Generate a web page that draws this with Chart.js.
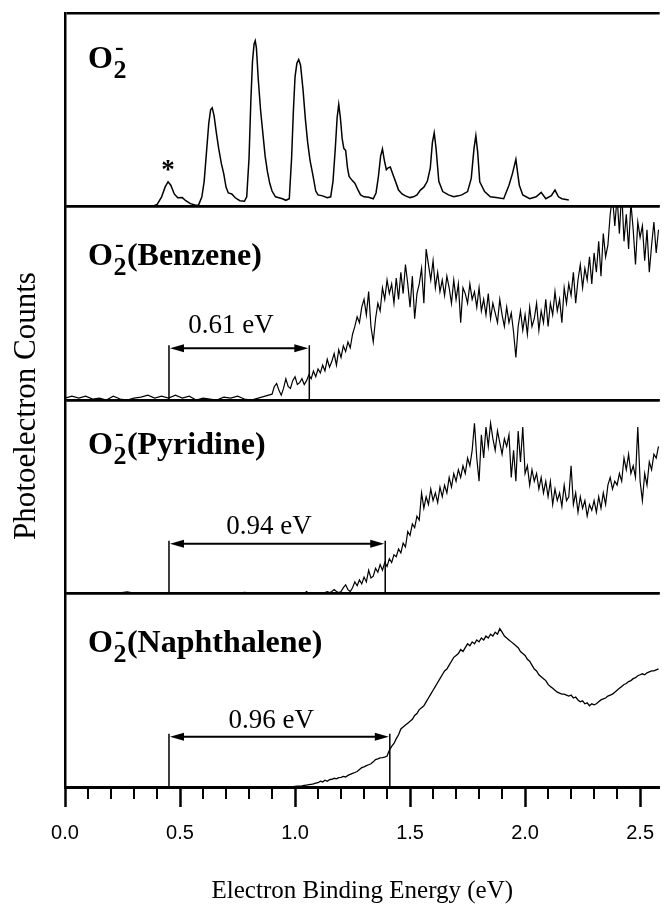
<!DOCTYPE html>
<html><head><meta charset="utf-8">
<script src="https://cdn.jsdelivr.net/npm/chart.js@4.4.0/dist/chart.umd.min.js"></script>
<style>html,body{margin:0;padding:0;background:#fff;overflow:hidden}</style>
</head><body>
<canvas id="c" width="668" height="904"></canvas>
<script>
// ---------------- DATA ----------------
const panelNames = ['', '(Benzene)', '(Pyridine)', '(Naphthalene)'];

// O2- spectrum (relative counts, panel height = 1)
const o2Energy = [0.38,0.40,0.42,0.435,0.448,0.46,0.475,0.49,0.51,0.525,0.545,0.565,0.58,0.595,0.605,0.615,0.625,0.633,0.640,0.648,0.658,0.668,0.68,0.69,0.70,0.71,0.725,0.74,0.76,0.78,
0.79,0.80,0.808,0.815,0.822,0.827,0.832,0.84,0.85,0.86,0.87,0.88,0.89,0.90,0.915,0.93,0.945,0.96,0.975,0.985,0.993,1.000,1.008,1.016,1.024,1.035,1.045,1.055,1.065,1.078,
1.09,1.10,1.12,1.14,1.155,1.165,1.175,1.183,1.190,1.197,1.205,1.212,1.22,1.228,1.235,1.248,1.26,1.272,1.285,1.30,1.32,1.34,1.352,1.362,1.372,1.38,1.388,1.397,1.405,1.414,
1.424,1.435,1.45,1.465,1.48,1.50,1.515,1.53,1.545,1.56,1.575,1.588,1.597,1.605,1.613,1.625,1.642,1.667,1.69,1.71,1.725,1.75,1.766,1.778,1.786,1.794,1.803,1.824,1.849,1.874,
1.907,1.93,1.945,1.96,1.968,1.975,1.99,2.02,2.048,2.07,2.09,2.114,2.13,2.145,2.16,2.19];
const o2Counts = [0.0,0.01,0.05,0.10,0.128,0.11,0.065,0.045,0.046,0.03,0.015,0.008,0.006,0.05,0.13,0.28,0.43,0.50,0.51,0.47,0.38,0.30,0.22,0.17,0.10,0.07,0.065,0.045,0.03,0.027,
0.05,0.25,0.55,0.75,0.84,0.857,0.82,0.66,0.50,0.38,0.26,0.18,0.12,0.08,0.05,0.045,0.04,0.032,0.04,0.25,0.50,0.67,0.74,0.76,0.73,0.60,0.45,0.33,0.24,0.16,
0.08,0.06,0.055,0.045,0.05,0.13,0.30,0.46,0.528,0.46,0.35,0.30,0.29,0.20,0.155,0.135,0.12,0.09,0.06,0.05,0.048,0.04,0.07,0.15,0.26,0.298,0.24,0.19,0.20,0.204,
0.17,0.135,0.085,0.065,0.055,0.046,0.05,0.06,0.085,0.10,0.13,0.20,0.33,0.38,0.30,0.13,0.077,0.06,0.05,0.055,0.06,0.077,0.145,0.30,0.366,0.28,0.128,0.077,0.05,0.046,
0.04,0.11,0.17,0.244,0.17,0.11,0.06,0.04,0.05,0.073,0.04,0.056,0.085,0.05,0.04,0.034];

// shared energy grid for the three cluster spectra (eV)
const energy = [0.00,0.03,0.06,0.09,0.12,0.15,0.18,0.21,0.24,0.27,0.30,0.33,0.36,0.39,0.42,0.45,0.48,0.51,0.54,0.57,0.60,0.63,0.66,0.69,0.72,0.75,0.78,0.81,0.84,0.87,
0.90,0.91,0.92,0.93,0.94,0.95,0.96,0.97,0.98,0.99,
1.00,1.01,1.02,1.03,1.04,1.05,1.06,1.07,1.08,1.09,
1.10,1.11,1.12,1.13,1.14,1.15,1.16,1.17,1.18,1.19,
1.20,1.21,1.22,1.23,1.24,1.25,1.26,1.27,1.28,1.29,
1.30,1.31,1.32,1.33,1.34,1.35,1.36,1.37,1.38,1.39,
1.40,1.41,1.42,1.43,1.44,1.45,1.46,1.47,1.48,1.49,
1.50,1.51,1.52,1.53,1.54,1.55,1.56,1.57,1.58,1.59,
1.60,1.61,1.62,1.63,1.64,1.65,1.66,1.67,1.68,1.69,
1.70,1.71,1.72,1.73,1.74,1.75,1.76,1.77,1.78,1.79,
1.80,1.81,1.82,1.83,1.84,1.85,1.86,1.87,1.88,1.89,
1.90,1.91,1.92,1.93,1.94,1.95,1.96,1.97,1.98,1.99,
2.00,2.01,2.02,2.03,2.04,2.05,2.06,2.07,2.08,2.09,
2.10,2.11,2.12,2.13,2.14,2.15,2.16,2.17,2.18,2.19,
2.20,2.21,2.22,2.23,2.24,2.25,2.26,2.27,2.28,2.29,
2.30,2.31,2.32,2.33,2.34,2.35,2.36,2.37,2.38,2.39,
2.40,2.41,2.42,2.43,2.44,2.45,2.46,2.47,2.48,2.49,
2.50,2.51,2.52,2.53,2.54,2.55,2.56,2.57,2.58];

const benzeneCounts = [0.01,0.02,0.01,0.02,0.005,0.01,0.0,0.02,0.005,0.0,0.01,0.015,0.025,0.01,0.02,0.01,0.025,0.01,0.02,0.0,0.01,0.005,0.0,0.015,0.01,0.02,0.005,0.0,0.01,0.02,
0.03,0.07,0.085,0.05,0.025,0.06,0.11,0.07,0.06,0.10,
0.12,0.08,0.09,0.11,0.08,0.10,0.13,0.11,0.15,0.12,
0.16,0.14,0.18,0.15,0.21,0.17,0.20,0.24,0.18,0.26,
0.22,0.28,0.25,0.30,0.27,0.34,0.38,0.43,0.40,0.48,
0.52,0.44,0.56,0.38,0.30,0.42,0.50,0.46,0.58,0.52,
0.62,0.55,0.60,0.50,0.63,0.52,0.66,0.55,0.70,0.60,
0.48,0.64,0.42,0.55,0.60,0.68,0.50,0.78,0.70,0.62,
0.72,0.58,0.66,0.56,0.62,0.54,0.64,0.58,0.50,0.62,
0.52,0.60,0.40,0.58,0.55,0.50,0.60,0.52,0.56,0.48,
0.58,0.46,0.52,0.44,0.55,0.42,0.50,0.45,0.40,0.52,
0.44,0.38,0.48,0.40,0.45,0.35,0.22,0.38,0.46,0.36,
0.44,0.34,0.48,0.38,0.42,0.50,0.36,0.46,0.40,0.52,
0.38,0.50,0.44,0.56,0.46,0.52,0.40,0.58,0.50,0.60,
0.54,0.66,0.50,0.62,0.70,0.58,0.68,0.62,0.74,0.60,
0.76,0.66,0.82,0.64,0.86,0.74,0.80,0.96,1.05,0.90,
1.05,0.86,1.08,0.82,0.96,0.78,1.02,0.88,0.70,0.92,
0.84,0.90,0.72,0.88,0.66,0.80,0.92,0.76,0.88];

const pyridineCounts = [0,0,0,0,0,0,0,0,0.003,0.008,0.002,0,0,0,0,0,0,0,0,0,0,0,0,0,0.004,0,0.006,0.002,0,0,
0,0,0.005,0,0,0,0,0.005,0,0,
0,0.005,0,0,0,0.01,0,0,0,0,
0,0.005,0,0.005,0.01,0.005,0.01,0.02,0.01,0.005,
0.01,0.03,0.045,0.02,0.01,0.03,0.06,0.04,0.07,0.05,
0.085,0.06,0.12,0.08,0.09,0.13,0.11,0.15,0.12,0.16,
0.14,0.18,0.16,0.20,0.19,0.23,0.21,0.26,0.24,0.32,
0.30,0.36,0.34,0.40,0.38,0.52,0.44,0.50,0.46,0.54,
0.48,0.52,0.47,0.55,0.50,0.56,0.52,0.60,0.55,0.62,
0.58,0.64,0.60,0.66,0.62,0.70,0.66,0.74,0.88,0.70,
0.58,0.82,0.70,0.86,0.76,0.88,0.80,0.74,0.84,0.78,
0.72,0.80,0.76,0.82,0.60,0.74,0.58,0.84,0.68,0.86,
0.62,0.66,0.56,0.64,0.58,0.62,0.54,0.60,0.52,0.58,
0.50,0.58,0.46,0.54,0.48,0.52,0.45,0.56,0.48,0.50,
0.66,0.46,0.52,0.42,0.50,0.44,0.48,0.40,0.46,0.43,
0.48,0.42,0.50,0.44,0.52,0.46,0.56,0.60,0.54,0.58,
0.56,0.62,0.58,0.70,0.64,0.72,0.62,0.66,0.60,0.86,
0.58,0.48,0.62,0.56,0.68,0.64,0.72,0.70,0.76];

const naphthaleneCounts = [0,0,0,0,0,0,0,0,0,0,0.002,0,0,0.002,0,0,0,0.002,0,0,0,0,0.002,0,0,0,0,0.002,0,0,
0,0,0,0,0,0,0,0,0,0.002,
0.003,0.004,0.005,0.006,0.008,0.01,0.012,0.014,0.016,0.02,
0.022,0.03,0.026,0.035,0.03,0.038,0.04,0.045,0.042,0.048,
0.05,0.055,0.052,0.06,0.065,0.07,0.075,0.08,0.09,0.10,
0.104,0.11,0.115,0.12,0.13,0.142,0.145,0.15,0.152,0.155,
0.16,0.19,0.21,0.225,0.25,0.27,0.30,0.31,0.32,0.33,
0.34,0.35,0.37,0.38,0.40,0.41,0.42,0.44,0.46,0.48,
0.50,0.52,0.54,0.56,0.58,0.60,0.61,0.63,0.65,0.67,
0.68,0.69,0.71,0.70,0.72,0.74,0.73,0.75,0.74,0.76,
0.75,0.77,0.76,0.78,0.77,0.79,0.78,0.80,0.79,0.818,
0.80,0.78,0.77,0.76,0.75,0.74,0.73,0.72,0.70,0.69,
0.68,0.66,0.65,0.63,0.61,0.60,0.58,0.57,0.56,0.55,
0.53,0.52,0.51,0.50,0.49,0.485,0.48,0.48,0.475,0.47,
0.475,0.46,0.465,0.45,0.44,0.445,0.43,0.435,0.42,0.43,
0.425,0.43,0.44,0.45,0.455,0.46,0.47,0.475,0.48,0.49,
0.50,0.51,0.52,0.53,0.535,0.545,0.55,0.56,0.565,0.575,
0.58,0.585,0.58,0.59,0.595,0.60,0.60,0.605,0.61];

const xTickValues = [0.0, 0.5, 1.0, 1.5, 2.0, 2.5];
const minorTickValues = [0.1,0.2,0.3,0.4,0.6,0.7,0.8,0.9,1.1,1.2,1.3,1.4,1.6,1.7,1.8,1.9,2.1,2.2,2.3,2.4];
const arrowStart = 0.452;               // eV, O2 electron affinity line
const gapValues = [0.61, 0.94, 0.96];   // eV shifts
const gapLabels = ['0.61 eV', '0.94 eV', '0.96 eV'];

// ---------------- CHART ----------------
const panelIds = ['y1', 'y2', 'y3', 'y4'];
const toXY = (xs, ys) => xs.map((x, i) => ({x: x, y: ys[i]}));
const SERIF = '"Liberation Serif", "Times New Roman", serif';
const SANS = '"Liberation Sans", Arial, sans-serif';

const annotStyle = {
  labelX: 0.1, labelFrac: [0.77, 0.75, 0.775, 0.75], labelSize: 32,
  starFrac: 0.217, starX: 0.448, starSize: 27,
  arrowFrac: [0.268, 0.257, 0.26], gapLabelFrac: [0.385, 0.342, 0.34], gapLabelShift: -0.035, gapSize: 27
};

const annotPlugin = {
  id: 'annot',
  afterDraw(chart) {
    const {ctx, scales, chartArea} = chart;
    const xs = scales.x;
    ctx.save();
    ctx.fillStyle = '#000';
    ctx.strokeStyle = '#000';
    // minor ticks
    ctx.lineWidth = 2;
    minorTickValues.forEach(v => {
      const px = Math.round(xs.getPixelForValue(v));
      ctx.beginPath(); ctx.moveTo(px, xs.top); ctx.lineTo(px, xs.top + 12); ctx.stroke();
    });
    // panel labels
    const S = annotStyle.labelSize;
    panelIds.forEach((id, i) => {
      const ys = scales[id];
      const x0 = xs.getPixelForValue(annotStyle.labelX);
      const cy = ys.getPixelForValue(annotStyle.labelFrac[i]);
      const base = cy + 0.33 * S;
      ctx.textAlign = 'left'; ctx.textBaseline = 'alphabetic';
      ctx.font = 'bold ' + S + 'px ' + SERIF;
      ctx.fillText('O', x0, base);
      let x = x0 + ctx.measureText('O').width + 0.5;
      const small = Math.round(S * 0.8);
      ctx.font = 'bold ' + small + 'px ' + SERIF;
      ctx.fillText('2', x, base + 0.3 * S);
      const w2 = ctx.measureText('2').width;
      ctx.fillText('-', x + 1.5, base - 0.42 * S);
      x += w2 + 0.5;
      ctx.font = 'bold ' + S + 'px ' + SERIF;
      if (panelNames[i]) ctx.fillText(panelNames[i], x, base);
    });
    // star
    const s1 = scales.y1;
    const st = annotStyle.starSize;
    ctx.font = 'bold ' + st + 'px ' + SERIF;
    ctx.textAlign = 'center';
    ctx.fillText('*', xs.getPixelForValue(annotStyle.starX), s1.getPixelForValue(annotStyle.starFrac) + 0.485 * st);
    // arrows
    gapValues.forEach((g, k) => {
      const ys = scales[panelIds[k + 1]];
      const xa = xs.getPixelForValue(arrowStart);
      const xb = xs.getPixelForValue(arrowStart + g);
      const ya = ys.getPixelForValue(annotStyle.arrowFrac[k]);
      const yb = ys.getPixelForValue(0);
      ctx.lineWidth = 1.5;
      ctx.beginPath();
      ctx.moveTo(xa, ya - 3); ctx.lineTo(xa, yb);
      ctx.moveTo(xb, ya - 3); ctx.lineTo(xb, yb);
      ctx.stroke();
      ctx.lineWidth = 2;
      ctx.beginPath(); ctx.moveTo(xa + 8, ya); ctx.lineTo(xb - 8, ya); ctx.stroke();
      ctx.beginPath();
      ctx.moveTo(xa + 1, ya); ctx.lineTo(xa + 15, ya - 4); ctx.lineTo(xa + 15, ya + 4); ctx.closePath();
      ctx.moveTo(xb - 1, ya); ctx.lineTo(xb - 15, ya - 4); ctx.lineTo(xb - 15, ya + 4); ctx.closePath();
      ctx.fill();
      ctx.font = annotStyle.gapSize + 'px ' + SERIF;
      ctx.textAlign = 'center'; ctx.textBaseline = 'middle';
      const cx = xs.getPixelForValue(arrowStart + g / 2 + annotStyle.gapLabelShift);
      ctx.fillText(gapLabels[k], cx, ys.getPixelForValue(annotStyle.gapLabelFrac[k]));
      ctx.textBaseline = 'alphabetic';
    });
    // y axis title
    ctx.font = '31px ' + SERIF;
    ctx.textAlign = 'center'; ctx.textBaseline = 'alphabetic';
    ctx.translate(35, (chartArea.top + chartArea.bottom) / 2 + 6);
    ctx.rotate(-Math.PI / 2);
    ctx.fillText('Photoelectron Counts', 0, 0);
    ctx.restore();
  }
};

function panelAxis() {
  return {
    type: 'linear', position: 'left', stack: 'panels', stackWeight: 1,
    min: 0, max: 1,
    ticks: {display: false, stepSize: 1},
    grid: {display: true, drawOnChartArea: true, drawTicks: false, color: '#000', lineWidth: 2.5},
    border: {display: true, color: '#000', width: 2.5}
  };
}

const lineDs = (xs, ys, id, w) => ({
  data: toXY(xs, ys), yAxisID: id, xAxisID: 'x',
  borderColor: '#000', borderWidth: w, pointRadius: 0, tension: 0, fill: false
});

new Chart(document.getElementById('c'), {
  type: 'line',
  data: {
    datasets: [
      lineDs(o2Energy, o2Counts, 'y1', 1.5),
      lineDs(energy, benzeneCounts, 'y2', 1.2),
      lineDs(energy, pyridineCounts, 'y3', 1.2),
      lineDs(energy, naphthaleneCounts, 'y4', 1.3)
    ]
  },
  options: {
    responsive: false, animation: false, devicePixelRatio: 1, events: [],
    layout: {padding: {left: 65, right: 0, top: 13, bottom: 0}},
    plugins: {legend: {display: false}, tooltip: {enabled: false}, title: {display: false}},
    scales: {
      x: {
        type: 'linear', position: 'bottom', min: 0, max: 2.585,
        afterBuildTicks: (s) => { s.ticks = xTickValues.map(v => ({value: v})); },
        ticks: {
          includeBounds: false, stepSize: 0.5, maxRotation: 0, autoSkip: false,
          callback: (v) => Number(v).toFixed(1),
          color: '#000', font: {family: SANS, size: 20}, padding: 14
        },
        grid: {drawOnChartArea: false, drawTicks: true, tickLength: 20, tickWidth: 2.5, tickColor: '#000', color: '#000'},
        border: {display: true, color: '#000', width: 3},
        title: {display: true, text: 'Electron Binding Energy (eV)', color: '#000',
                font: {family: SERIF, size: 25, lineHeight: 1.0}, padding: {top: 20, bottom: 0}}
      },
      y4: panelAxis(),
      y3: panelAxis(),
      y2: panelAxis(),
      y1: panelAxis()
    }
  },
  plugins: [annotPlugin]
});
</script>
</body></html>
